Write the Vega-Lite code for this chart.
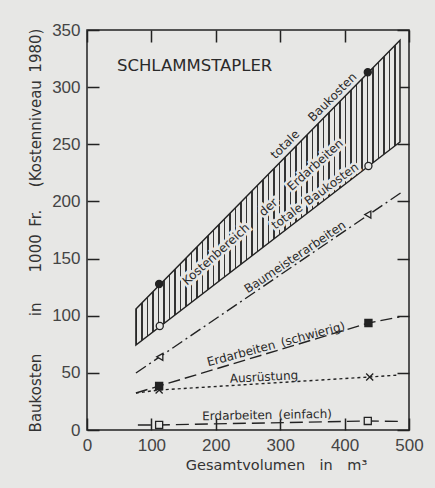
{
  "$schema": "https://vega.github.io/schema/vega-lite/v6.json",
  "width": 322,
  "height": 400,
  "autosize": {"type": "none"},
  "padding": {"left": 87, "top": 30, "right": 26, "bottom": 58},
  "background": "#e7e7e5",
  "config": {
    "view": {"stroke": "#222", "strokeWidth": 1.5},
    "axis": {"domain": false, "ticks": false, "grid": true, "gridColor": "#222", "gridOpacity": 1, "gridWidth": 1.5, "labelFont": "Liberation Sans", "labelFontSize": 17, "labelColor": "#444", "labelFlush": false, "titleFont": "DejaVu Sans", "titleFontSize": 14.5, "titleFontWeight": "normal", "titleColor": "#333"}
  },
  "layer": [
    {
      "data": {"values": [{"x": 76, "lo": 74.4, "hi": 105.9}, {"x": 486, "lo": 252, "hi": 341}]},
      "mark": {"type": "area", "stroke": "#222", "strokeWidth": 1.5, "fill": {"gradient": "linear", "x1": 0, "y1": 0, "x2": 1, "y2": 0, "stops": [
        {"offset": 0, "color": "#333"}, {"offset": 0.0052, "color": "#333"}, {"offset": 0.0052, "color": "#e7e7e5"}, {"offset": 0.0208, "color": "#e7e7e5"},
        {"offset": 0.0208, "color": "#333"}, {"offset": 0.026, "color": "#333"}, {"offset": 0.026, "color": "#e7e7e5"}, {"offset": 0.0417, "color": "#e7e7e5"},
        {"offset": 0.0417, "color": "#333"}, {"offset": 0.0469, "color": "#333"}, {"offset": 0.0469, "color": "#e7e7e5"}, {"offset": 0.0625, "color": "#e7e7e5"},
        {"offset": 0.0625, "color": "#333"}, {"offset": 0.0677, "color": "#333"}, {"offset": 0.0677, "color": "#e7e7e5"}, {"offset": 0.0833, "color": "#e7e7e5"},
        {"offset": 0.0833, "color": "#333"}, {"offset": 0.0885, "color": "#333"}, {"offset": 0.0885, "color": "#e7e7e5"}, {"offset": 0.1042, "color": "#e7e7e5"},
        {"offset": 0.1042, "color": "#333"}, {"offset": 0.1094, "color": "#333"}, {"offset": 0.1094, "color": "#e7e7e5"}, {"offset": 0.125, "color": "#e7e7e5"},
        {"offset": 0.125, "color": "#333"}, {"offset": 0.1302, "color": "#333"}, {"offset": 0.1302, "color": "#e7e7e5"}, {"offset": 0.1458, "color": "#e7e7e5"},
        {"offset": 0.1458, "color": "#333"}, {"offset": 0.151, "color": "#333"}, {"offset": 0.151, "color": "#e7e7e5"}, {"offset": 0.1667, "color": "#e7e7e5"},
        {"offset": 0.1667, "color": "#333"}, {"offset": 0.1719, "color": "#333"}, {"offset": 0.1719, "color": "#e7e7e5"}, {"offset": 0.1875, "color": "#e7e7e5"},
        {"offset": 0.1875, "color": "#333"}, {"offset": 0.1927, "color": "#333"}, {"offset": 0.1927, "color": "#e7e7e5"}, {"offset": 0.2083, "color": "#e7e7e5"},
        {"offset": 0.2083, "color": "#333"}, {"offset": 0.2135, "color": "#333"}, {"offset": 0.2135, "color": "#e7e7e5"}, {"offset": 0.2292, "color": "#e7e7e5"},
        {"offset": 0.2292, "color": "#333"}, {"offset": 0.2344, "color": "#333"}, {"offset": 0.2344, "color": "#e7e7e5"}, {"offset": 0.25, "color": "#e7e7e5"},
        {"offset": 0.25, "color": "#333"}, {"offset": 0.2552, "color": "#333"}, {"offset": 0.2552, "color": "#e7e7e5"}, {"offset": 0.2708, "color": "#e7e7e5"},
        {"offset": 0.2708, "color": "#333"}, {"offset": 0.276, "color": "#333"}, {"offset": 0.276, "color": "#e7e7e5"}, {"offset": 0.2917, "color": "#e7e7e5"},
        {"offset": 0.2917, "color": "#333"}, {"offset": 0.2969, "color": "#333"}, {"offset": 0.2969, "color": "#e7e7e5"}, {"offset": 0.3125, "color": "#e7e7e5"},
        {"offset": 0.3125, "color": "#333"}, {"offset": 0.3177, "color": "#333"}, {"offset": 0.3177, "color": "#e7e7e5"}, {"offset": 0.3333, "color": "#e7e7e5"},
        {"offset": 0.3333, "color": "#333"}, {"offset": 0.3385, "color": "#333"}, {"offset": 0.3385, "color": "#e7e7e5"}, {"offset": 0.3542, "color": "#e7e7e5"},
        {"offset": 0.3542, "color": "#333"}, {"offset": 0.3594, "color": "#333"}, {"offset": 0.3594, "color": "#e7e7e5"}, {"offset": 0.375, "color": "#e7e7e5"},
        {"offset": 0.375, "color": "#333"}, {"offset": 0.3802, "color": "#333"}, {"offset": 0.3802, "color": "#e7e7e5"}, {"offset": 0.3958, "color": "#e7e7e5"},
        {"offset": 0.3958, "color": "#333"}, {"offset": 0.401, "color": "#333"}, {"offset": 0.401, "color": "#e7e7e5"}, {"offset": 0.4167, "color": "#e7e7e5"},
        {"offset": 0.4167, "color": "#333"}, {"offset": 0.4219, "color": "#333"}, {"offset": 0.4219, "color": "#e7e7e5"}, {"offset": 0.4375, "color": "#e7e7e5"},
        {"offset": 0.4375, "color": "#333"}, {"offset": 0.4427, "color": "#333"}, {"offset": 0.4427, "color": "#e7e7e5"}, {"offset": 0.4583, "color": "#e7e7e5"},
        {"offset": 0.4583, "color": "#333"}, {"offset": 0.4635, "color": "#333"}, {"offset": 0.4635, "color": "#e7e7e5"}, {"offset": 0.4792, "color": "#e7e7e5"},
        {"offset": 0.4792, "color": "#333"}, {"offset": 0.4844, "color": "#333"}, {"offset": 0.4844, "color": "#e7e7e5"}, {"offset": 0.5, "color": "#e7e7e5"},
        {"offset": 0.5, "color": "#333"}, {"offset": 0.5052, "color": "#333"}, {"offset": 0.5052, "color": "#e7e7e5"}, {"offset": 0.5208, "color": "#e7e7e5"},
        {"offset": 0.5208, "color": "#333"}, {"offset": 0.526, "color": "#333"}, {"offset": 0.526, "color": "#e7e7e5"}, {"offset": 0.5417, "color": "#e7e7e5"},
        {"offset": 0.5417, "color": "#333"}, {"offset": 0.5469, "color": "#333"}, {"offset": 0.5469, "color": "#e7e7e5"}, {"offset": 0.5625, "color": "#e7e7e5"},
        {"offset": 0.5625, "color": "#333"}, {"offset": 0.5677, "color": "#333"}, {"offset": 0.5677, "color": "#e7e7e5"}, {"offset": 0.5833, "color": "#e7e7e5"},
        {"offset": 0.5833, "color": "#333"}, {"offset": 0.5885, "color": "#333"}, {"offset": 0.5885, "color": "#e7e7e5"}, {"offset": 0.6042, "color": "#e7e7e5"},
        {"offset": 0.6042, "color": "#333"}, {"offset": 0.6094, "color": "#333"}, {"offset": 0.6094, "color": "#e7e7e5"}, {"offset": 0.625, "color": "#e7e7e5"},
        {"offset": 0.625, "color": "#333"}, {"offset": 0.6302, "color": "#333"}, {"offset": 0.6302, "color": "#e7e7e5"}, {"offset": 0.6458, "color": "#e7e7e5"},
        {"offset": 0.6458, "color": "#333"}, {"offset": 0.651, "color": "#333"}, {"offset": 0.651, "color": "#e7e7e5"}, {"offset": 0.6667, "color": "#e7e7e5"},
        {"offset": 0.6667, "color": "#333"}, {"offset": 0.6719, "color": "#333"}, {"offset": 0.6719, "color": "#e7e7e5"}, {"offset": 0.6875, "color": "#e7e7e5"},
        {"offset": 0.6875, "color": "#333"}, {"offset": 0.6927, "color": "#333"}, {"offset": 0.6927, "color": "#e7e7e5"}, {"offset": 0.7083, "color": "#e7e7e5"},
        {"offset": 0.7083, "color": "#333"}, {"offset": 0.7135, "color": "#333"}, {"offset": 0.7135, "color": "#e7e7e5"}, {"offset": 0.7292, "color": "#e7e7e5"},
        {"offset": 0.7292, "color": "#333"}, {"offset": 0.7344, "color": "#333"}, {"offset": 0.7344, "color": "#e7e7e5"}, {"offset": 0.75, "color": "#e7e7e5"},
        {"offset": 0.75, "color": "#333"}, {"offset": 0.7552, "color": "#333"}, {"offset": 0.7552, "color": "#e7e7e5"}, {"offset": 0.7708, "color": "#e7e7e5"},
        {"offset": 0.7708, "color": "#333"}, {"offset": 0.776, "color": "#333"}, {"offset": 0.776, "color": "#e7e7e5"}, {"offset": 0.7917, "color": "#e7e7e5"},
        {"offset": 0.7917, "color": "#333"}, {"offset": 0.7969, "color": "#333"}, {"offset": 0.7969, "color": "#e7e7e5"}, {"offset": 0.8125, "color": "#e7e7e5"},
        {"offset": 0.8125, "color": "#333"}, {"offset": 0.8177, "color": "#333"}, {"offset": 0.8177, "color": "#e7e7e5"}, {"offset": 0.8333, "color": "#e7e7e5"},
        {"offset": 0.8333, "color": "#333"}, {"offset": 0.8385, "color": "#333"}, {"offset": 0.8385, "color": "#e7e7e5"}, {"offset": 0.8542, "color": "#e7e7e5"},
        {"offset": 0.8542, "color": "#333"}, {"offset": 0.8594, "color": "#333"}, {"offset": 0.8594, "color": "#e7e7e5"}, {"offset": 0.875, "color": "#e7e7e5"},
        {"offset": 0.875, "color": "#333"}, {"offset": 0.8802, "color": "#333"}, {"offset": 0.8802, "color": "#e7e7e5"}, {"offset": 0.8958, "color": "#e7e7e5"},
        {"offset": 0.8958, "color": "#333"}, {"offset": 0.901, "color": "#333"}, {"offset": 0.901, "color": "#e7e7e5"}, {"offset": 0.9167, "color": "#e7e7e5"},
        {"offset": 0.9167, "color": "#333"}, {"offset": 0.9219, "color": "#333"}, {"offset": 0.9219, "color": "#e7e7e5"}, {"offset": 0.9375, "color": "#e7e7e5"},
        {"offset": 0.9375, "color": "#333"}, {"offset": 0.9427, "color": "#333"}, {"offset": 0.9427, "color": "#e7e7e5"}, {"offset": 0.9583, "color": "#e7e7e5"},
        {"offset": 0.9583, "color": "#333"}, {"offset": 0.9635, "color": "#333"}, {"offset": 0.9635, "color": "#e7e7e5"}, {"offset": 0.9792, "color": "#e7e7e5"},
        {"offset": 0.9792, "color": "#333"}, {"offset": 0.9844, "color": "#333"}, {"offset": 0.9844, "color": "#e7e7e5"}, {"offset": 1, "color": "#e7e7e5"}
      ]}},
      "encoding": {
        "x": {"field": "x", "type": "quantitative", "scale": {"domain": [0, 500], "nice": false},
          "axis": {"orient": "bottom", "values": [0, 100, 200, 300, 400, 500], "gridDash": [12, 376, 12, 1000], "labelPadding": 7, "title": "Gesamtvolumen\u2002\u2002in\u2002\u2002m³", "titleX": 189, "titleY": 35, "titleBaseline": "middle", "titleAlign": "center"}},
        "y": {"field": "hi", "type": "quantitative", "scale": {"domain": [0, 350], "nice": false},
          "axis": {"orient": "left", "values": [0, 50, 100, 150, 200, 250, 300, 350], "gridDash": [12, 298, 12, 1000], "labelPadding": 7, "title": "Baukosten\u2003\u2003\u2002in\u2003\u20031000\u2002Fr.\u2003\u2002(Kostenniveau\u20021980)", "titleFontSize": 15, "titleX": -52, "titleY": 200, "titleBaseline": "middle", "titleAlign": "center", "titleAngle": -90}},
        "y2": {"field": "lo"}
      }
    },
    {
      "data": {"values": [
        {"series": "Baumeisterarbeiten", "x": 76, "y": 49.9}, {"series": "Baumeisterarbeiten", "x": 487, "y": 207.4},
        {"series": "Erdarbeiten (schwierig)", "x": 76, "y": 32.4}, {"series": "Erdarbeiten (schwierig)", "x": 112, "y": 38.5}, {"series": "Erdarbeiten (schwierig)", "x": 437, "y": 93.6}, {"series": "Erdarbeiten (schwierig)", "x": 485, "y": 98.9},
        {"series": "Ausrüstung", "x": 76, "y": 32.4}, {"series": "Ausrüstung", "x": 112, "y": 35}, {"series": "Ausrüstung", "x": 439, "y": 46.4}, {"series": "Ausrüstung", "x": 485, "y": 48.1},
        {"series": "Erdarbeiten (einfach)", "x": 79, "y": 4.4}, {"series": "Erdarbeiten (einfach)", "x": 112, "y": 4.4}, {"series": "Erdarbeiten (einfach)", "x": 436, "y": 7.9}, {"series": "Erdarbeiten (einfach)", "x": 485, "y": 7.5}
      ]},
      "mark": {"type": "line", "color": "#222", "strokeWidth": 1.4},
      "encoding": {
        "x": {"field": "x", "type": "quantitative"},
        "y": {"field": "y", "type": "quantitative"},
        "detail": {"field": "series"},
        "strokeDash": {"field": "series", "type": "nominal", "legend": null, "scale": {"domain": ["Baumeisterarbeiten", "Erdarbeiten (schwierig)", "Ausrüstung", "Erdarbeiten (einfach)"], "range": [[12, 4, 2, 4], [12, 5], [3, 3], [13, 6]]}}
      }
    },
    {
      "data": {"values": [
        {"series": "totale Baukosten max", "x": 112, "y": 127.7}, {"series": "totale Baukosten max", "x": 436, "y": 313},
        {"series": "totale Baukosten min", "x": 113, "y": 91}, {"series": "totale Baukosten min", "x": 437, "y": 231},
        {"series": "Baumeisterarbeiten", "x": 113, "y": 64}, {"series": "Baumeisterarbeiten", "x": 436, "y": 188.5},
        {"series": "Erdarbeiten (schwierig)", "x": 112, "y": 38.5}, {"series": "Erdarbeiten (schwierig)", "x": 437, "y": 93.6},
        {"series": "Ausrüstung", "x": 112, "y": 35}, {"series": "Ausrüstung", "x": 439, "y": 46.4},
        {"series": "Erdarbeiten (einfach)", "x": 112, "y": 4.4}, {"series": "Erdarbeiten (einfach)", "x": 436, "y": 7.9}
      ]},
      "mark": {"type": "point", "stroke": "#222", "strokeWidth": 1.3, "opacity": 1, "size": 50},
      "encoding": {
        "x": {"field": "x", "type": "quantitative"},
        "y": {"field": "y", "type": "quantitative"},
        "shape": {"field": "series", "type": "nominal", "legend": null, "scale": {"domain": ["totale Baukosten max", "totale Baukosten min", "Baumeisterarbeiten", "Erdarbeiten (schwierig)", "Ausrüstung", "Erdarbeiten (einfach)"], "range": ["circle", "circle", "triangle-left", "square", "M-1,-1L1,1M-1,1L1,-1", "square"]}},
        "fill": {"field": "series", "type": "nominal", "legend": null, "scale": {"domain": ["totale Baukosten max", "totale Baukosten min", "Baumeisterarbeiten", "Erdarbeiten (schwierig)", "Ausrüstung", "Erdarbeiten (einfach)"], "range": ["#222", "#e7e7e5", "#e7e7e5", "#222", "#e7e7e5", "#e7e7e5"]}}
      }
    },
    {
      "data": {"values": [{"label": "SCHLAMMSTAPLER", "x": 46.5, "y": 318.5}]},
      "mark": {"type": "text", "font": "DejaVu Sans", "fontSize": 16.5, "color": "#2a2a2a", "align": "left", "baseline": "middle"},
      "encoding": {"x": {"field": "x", "type": "quantitative"}, "y": {"field": "y", "type": "quantitative"}, "text": {"field": "label"}}
    },
    {
      "data": {"values": [{"label": "totale\u2003\u2002Baukosten", "x": 352, "y": 275}]},
      "mark": {"type": "text", "font": "DejaVu Sans", "fontSize": 12, "color": "#2a2a2a", "align": "center", "baseline": "middle", "angle": -45},
      "encoding": {"x": {"field": "x", "type": "quantitative"}, "y": {"field": "y", "type": "quantitative"}, "text": {"field": "label"}}
    },
    {
      "data": {"values": [{"label": "Kostenbereich\u2003\u2002der\u2003\u2002Erdarbeiten", "x": 273, "y": 190.7}]},
      "mark": {"type": "text", "font": "DejaVu Sans", "fontSize": 12, "fill": "#e7e7e5", "stroke": "#e7e7e5", "strokeWidth": 5, "align": "center", "baseline": "middle", "angle": -42},
      "encoding": {"x": {"field": "x", "type": "quantitative"}, "y": {"field": "y", "type": "quantitative"}, "text": {"field": "label"}}
    },
    {
      "data": {"values": [{"label": "Kostenbereich\u2003\u2002der\u2003\u2002Erdarbeiten", "x": 273, "y": 190.7}]},
      "mark": {"type": "text", "font": "DejaVu Sans", "fontSize": 12, "color": "#2a2a2a", "align": "center", "baseline": "middle", "angle": -42},
      "encoding": {"x": {"field": "x", "type": "quantitative"}, "y": {"field": "y", "type": "quantitative"}, "text": {"field": "label"}}
    },
    {
      "data": {"values": [{"label": "totale\u2002Baukosten", "x": 354, "y": 204.7}]},
      "mark": {"type": "text", "font": "DejaVu Sans", "fontSize": 12, "fill": "#e7e7e5", "stroke": "#e7e7e5", "strokeWidth": 5, "align": "center", "baseline": "middle", "angle": -36},
      "encoding": {"x": {"field": "x", "type": "quantitative"}, "y": {"field": "y", "type": "quantitative"}, "text": {"field": "label"}}
    },
    {
      "data": {"values": [{"label": "totale\u2002Baukosten", "x": 354, "y": 204.7}]},
      "mark": {"type": "text", "font": "DejaVu Sans", "fontSize": 12, "color": "#2a2a2a", "align": "center", "baseline": "middle", "angle": -36},
      "encoding": {"x": {"field": "x", "type": "quantitative"}, "y": {"field": "y", "type": "quantitative"}, "text": {"field": "label"}}
    },
    {
      "data": {"values": [{"label": "Baumeisterarbeiten", "x": 323, "y": 151.4}]},
      "mark": {"type": "text", "font": "DejaVu Sans", "fontSize": 12, "color": "#2a2a2a", "align": "center", "baseline": "middle", "angle": -34},
      "encoding": {"x": {"field": "x", "type": "quantitative"}, "y": {"field": "y", "type": "quantitative"}, "text": {"field": "label"}}
    },
    {
      "data": {"values": [{"label": "Erdarbeiten\u2002(schwierig)", "x": 293.5, "y": 75.2}]},
      "mark": {"type": "text", "font": "DejaVu Sans", "fontSize": 12, "color": "#2a2a2a", "align": "center", "baseline": "middle", "angle": -15},
      "encoding": {"x": {"field": "x", "type": "quantitative"}, "y": {"field": "y", "type": "quantitative"}, "text": {"field": "label"}}
    },
    {
      "data": {"values": [{"label": "Ausrüstung", "x": 274.8, "y": 46.4}]},
      "mark": {"type": "text", "font": "DejaVu Sans", "fontSize": 12, "color": "#2a2a2a", "align": "center", "baseline": "middle", "angle": -3},
      "encoding": {"x": {"field": "x", "type": "quantitative"}, "y": {"field": "y", "type": "quantitative"}, "text": {"field": "label"}}
    },
    {
      "data": {"values": [{"label": "Erdarbeiten\u2002(einfach)", "x": 279.5, "y": 13.1}]},
      "mark": {"type": "text", "font": "DejaVu Sans", "fontSize": 12, "color": "#2a2a2a", "align": "center", "baseline": "middle", "angle": -1},
      "encoding": {"x": {"field": "x", "type": "quantitative"}, "y": {"field": "y", "type": "quantitative"}, "text": {"field": "label"}}
    }
  ]
}
